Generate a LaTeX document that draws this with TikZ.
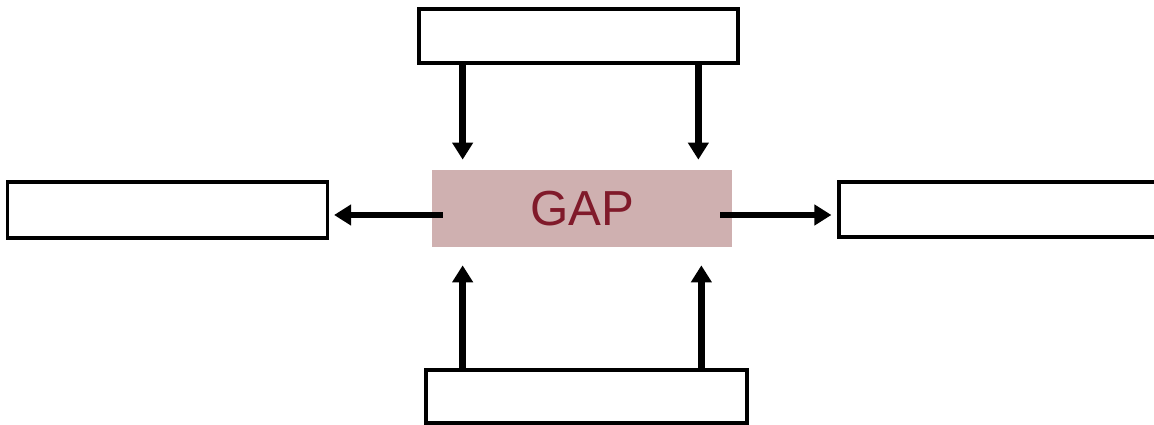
\documentclass[tikz,border=0pt]{standalone}
\usepackage{fontspec}
\setmainfont{Liberation Sans}
\definecolor{gaprose}{RGB}{207,176,176}
\definecolor{gapred}{RGB}{128,26,42}
\usepackage{tikz}
\usetikzlibrary{arrows.meta,positioning}

\begin{document}
\begin{tikzpicture}[
  plainbox/.style={draw=black, line width=1.8pt, fill=white,
    minimum width=6.4cm, minimum height=1.1cm, inner sep=0pt},
  gapbox/.style={fill=gaprose, minimum width=6.0cm, minimum height=1.54cm,
    inner sep=0pt, text=gapred, font=\fontsize{28}{30}\selectfont},
  flowarrow/.style={line width=3.8pt, -{Triangle[width=0.4cm,length=0.34cm]}}]

\useasboundingbox (0,0) rectangle (23.08,-8.5);

% Boxes
\node[gapbox] (gap) at (11.64,-4.17) {GAP};
\node[plainbox, minimum width=6.38cm, minimum height=1.08cm] (top) at (11.57,-0.72) {};
\node[plainbox, minimum height=1.12cm] (left) at (3.35,-4.2) {};
\node[plainbox] (right) at (19.98,-4.19) {};
\node[plainbox, minimum width=6.42cm, minimum height=1.06cm] (bottom) at (11.73,-7.93) {};

% Arrows into GAP
\draw[flowarrow, shorten >=0.2cm] ([xshift=0.62cm]gap.north west |- top.south)
  -- ([xshift=0.62cm]gap.north west);
\draw[flowarrow, shorten >=0.2cm] ([xshift=-0.68cm]gap.north east |- top.south)
  -- ([xshift=-0.68cm]gap.north east);
\draw[flowarrow, shorten >=0.36cm] ([xshift=0.62cm]gap.south west |- bottom.north)
  -- ([xshift=0.62cm]gap.south west);
\draw[flowarrow, shorten >=0.36cm] ([xshift=-0.62cm]gap.south east |- bottom.north)
  -- ([xshift=-0.62cm]gap.south east);

% Arrows out of GAP
\draw[flowarrow, shorten >=0.1cm] ([shift={(0.22,-0.13)}]gap.west)
  -- ([yshift=-0.13cm]gap.west -| left.east);
\draw[flowarrow, shorten >=0.12cm] ([shift={(-0.24,-0.13)}]gap.east)
  -- ([yshift=-0.13cm]gap.east -| right.west);

\end{tikzpicture}
\end{document}
